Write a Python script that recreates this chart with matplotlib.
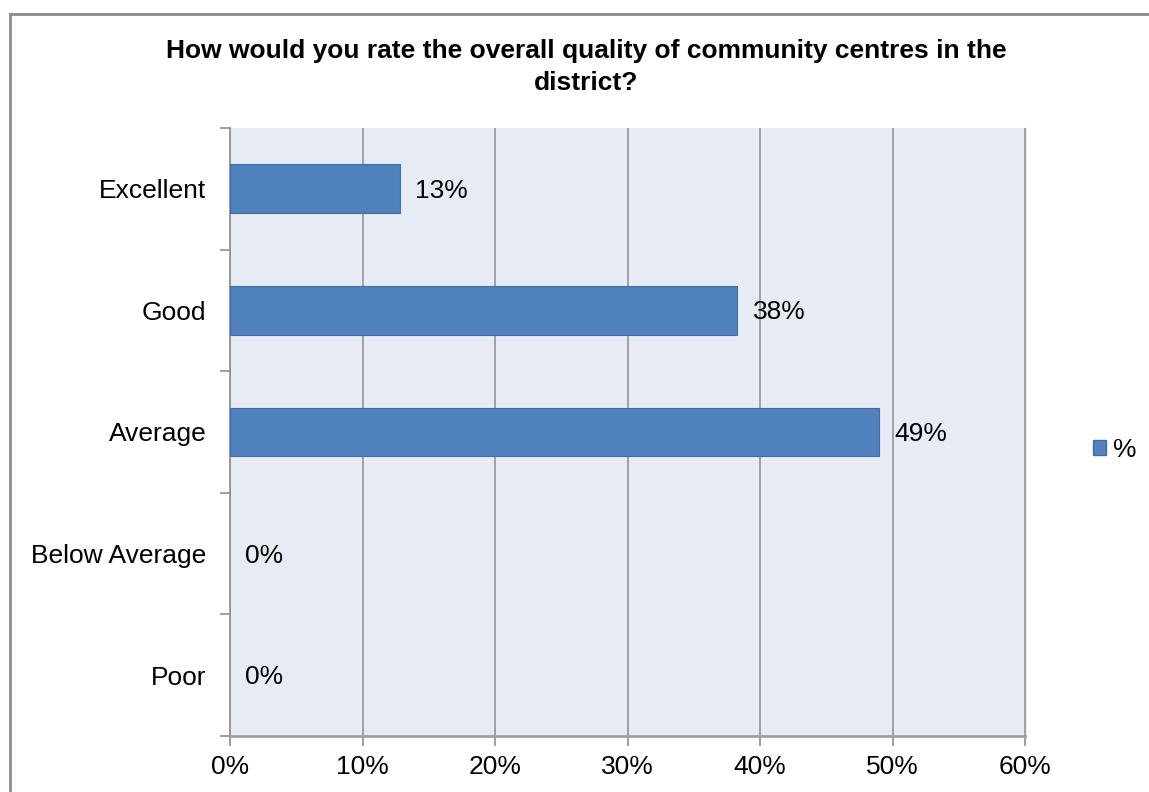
import matplotlib
matplotlib.use("Agg")
import matplotlib.pyplot as plt
from matplotlib.lines import Line2D
from matplotlib.patches import Patch

categories = ["Excellent", "Good", "Average", "Below Average", "Poor"]
values = [12.8, 38.3, 49.0, 0.0, 0.0]
value_labels = ["13%", "38%", "49%", "0%", "0%"]
x_ticks = [0, 10, 20, 30, 40, 50, 60]
x_tick_labels = ["0%", "10%", "20%", "30%", "40%", "50%", "60%"]
series_name = "%"
title = "How would you rate the overall quality of community centres in the\ndistrict?"

plt.rcParams["font.family"] = ["Liberation Sans", "DejaVu Sans"]

W, H = 1149, 792
fig = plt.figure(figsize=(W / 100, H / 100), dpi=100)
fig.patch.set_facecolor("white")

# chart-area frame (left and top edges fall inside the canvas)
frame_color = "#8c8c8c"
fig.add_artist(Line2D([10 / W, 10 / W], [0, 1 - 14 / H], transform=fig.transFigure,
                      color=frame_color, lw=2))
fig.add_artist(Line2D([10 / W, 1], [1 - 14 / H, 1 - 14 / H], transform=fig.transFigure,
                      color=frame_color, lw=2))

left, right, top, bottom = 230, 1025, 128, 736
ax = fig.add_axes([left / W, 1 - bottom / H, (right - left) / W, (bottom - top) / H])
ax.set_facecolor("#E7ECF4")

bar_color = "#4F81BD"
y_pos = list(range(len(categories)))
bars = ax.barh(y_pos, values, height=0.40, color=bar_color, edgecolor="#3F6DA6",
               linewidth=0.8, zorder=3)
for b, v in zip(bars, values):
    if v == 0:
        b.set_linewidth(0)

label_size = 19
for y, v, lab in zip(y_pos, values, value_labels):
    ax.annotate(lab, xy=(v, y), xytext=(11, -1.5), textcoords="offset points",
                ha="left", va="center", fontsize=label_size, color="black", zorder=4)

ax.set_xlim(0, 60)
ax.set_ylim(len(categories) - 0.5, -0.5)
ax.set_xticks(x_ticks)
ax.set_xticklabels(x_tick_labels, fontsize=label_size)
ax.set_yticks([i - 0.5 for i in range(len(categories) + 1)], minor=False)
ax.set_yticklabels([""] * (len(categories) + 1))
ax.set_yticks(y_pos, minor=True)
ax.set_yticklabels(categories, minor=True, fontsize=label_size)
ax.tick_params(axis="y", which="minor", length=0, pad=17)
ax.tick_params(axis="y", which="major", length=7, color="#8c8c8c", width=1.2)
ax.tick_params(axis="x", length=7, color="#8c8c8c", width=1.2, pad=7)

ax.grid(axis="x", color="#8c8c8c", linewidth=1.1, zorder=1)
ax.set_axisbelow(True)
ax.spines["top"].set_visible(False)
ax.spines["right"].set_color("#a0a0a0")
ax.spines["right"].set_linewidth(1.0)
ax.spines["left"].set_color("#8c8c8c")
ax.spines["left"].set_linewidth(1.2)
ax.spines["bottom"].set_color("#a0a0a0")
ax.spines["bottom"].set_linewidth(2.0)

fig.text(586 / W, 1 - 67 / H, title, ha="center", va="center", fontsize=19,
         fontweight="bold", linespacing=1.45)

handle = Patch(facecolor=bar_color, edgecolor="#3F6DA6", label=series_name)
fig.legend(handles=[handle], loc="center left", bbox_to_anchor=(1093 / W, 1 - 450 / H),
           frameon=False, fontsize=label_size, handlelength=0.5, handleheight=0.5,
           handletextpad=0.25, borderpad=0, borderaxespad=0)

fig.savefig("out.png", dpi=100)
